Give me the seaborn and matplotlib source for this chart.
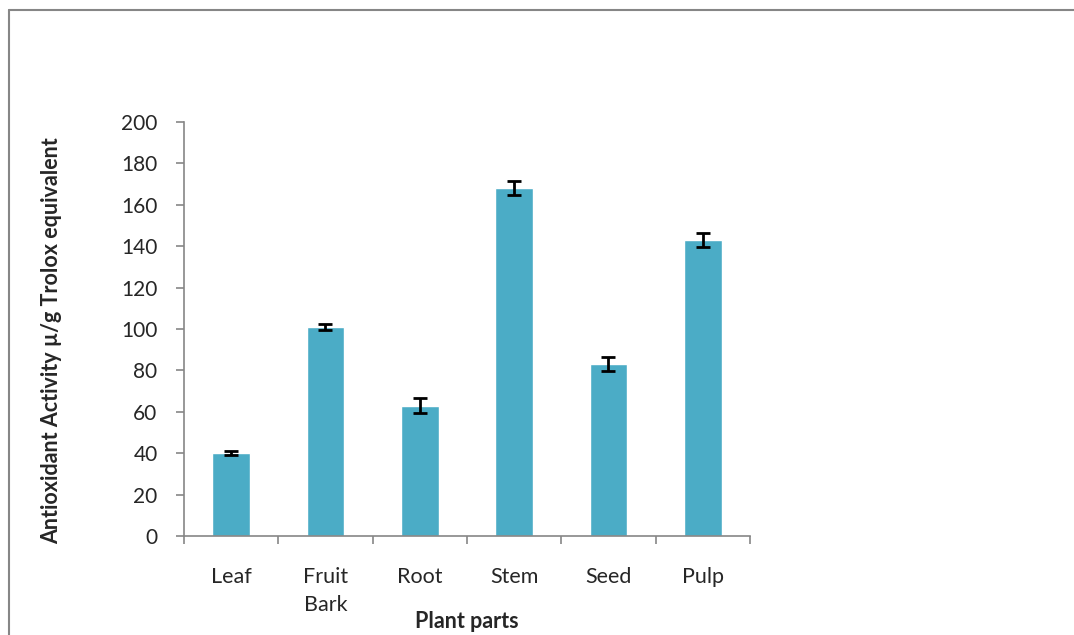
import numpy as np
import pandas as pd
import matplotlib
matplotlib.use('Agg')
import matplotlib.pyplot as plt
from matplotlib.lines import Line2D
import seaborn as sns

# données
parts = ['Leaf', 'Fruit\nBark', 'Root', 'Stem', 'Seed', 'Pulp']
activity = [40, 101, 63, 168, 83, 143]
errors = [1, 1.5, 3.5, 3.5, 3.5, 3.5]

sns.set_style('white')
plt.rcParams['font.family'] = ['Lato', 'DejaVu Sans']

df = pd.DataFrame({'part': parts, 'activity': activity})

fig = plt.figure(figsize=(10.74, 6.35), dpi=100)
ax = fig.add_axes([0.1713, 0.1559, 0.527, 0.652])

sns.barplot(data=df, x='part', y='activity', color='#4BACC6',
            width=0.4, errorbar=None, saturation=1, ax=ax)
ax.errorbar(np.arange(len(parts)), activity, yerr=errors, fmt='none',
            ecolor='black', elinewidth=2, capsize=5, capthick=2)

ax.set_ylim(0, 200)
ax.set_yticks(range(0, 201, 20))
ax.set_xlim(-0.5, len(parts) - 0.5)

# graduations aux limites des catégories, étiquettes au centre
ax.set_xticks(np.arange(-0.5, len(parts), 1.0))
ax.set_xticklabels([])
ax.set_xticks(np.arange(len(parts)), minor=True)
ax.set_xticklabels(parts, minor=True, fontsize=15.5, va='top', linespacing=1.55)
ax.tick_params(axis='x', which='minor', length=0, pad=22)
ax.tick_params(axis='x', which='major', length=6, width=1.2, color='#868686',
               direction='out', bottom=True)
ax.tick_params(axis='y', length=6, width=1.2, color='#868686',
               direction='out', left=True, labelsize=15, pad=13)

for side in ['top', 'right']:
    ax.spines[side].set_visible(False)
for side in ['left', 'bottom']:
    ax.spines[side].set_color('#868686')
    ax.spines[side].set_linewidth(1.2)

ax.set_xlabel('Plant parts', fontsize=15.5, fontweight='bold')
ax.xaxis.set_label_coords(0.5, -0.18)
ax.set_ylabel('Antioxidant Activity µ/g Trolox equivalent', fontsize=15.5,
              fontweight='bold')
ax.yaxis.set_label_coords(-0.216, 0.473)

# cadre extérieur (haut et gauche seulement)
fig.add_artist(Line2D([9 / 1074, 1], [1 - 10 / 635, 1 - 10 / 635],
                      color='#868686', lw=1.5, transform=fig.transFigure))
fig.add_artist(Line2D([9 / 1074, 9 / 1074], [0, 1 - 10 / 635],
                      color='#868686', lw=1.5, transform=fig.transFigure))

plt.savefig('out.png', dpi=100)
plt.close()
